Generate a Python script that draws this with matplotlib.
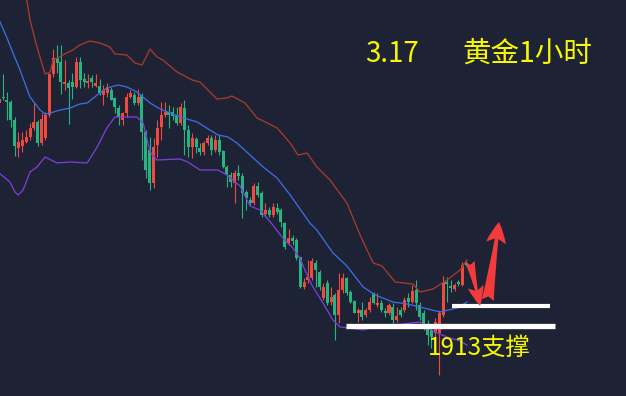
import matplotlib
matplotlib.use("Agg")
import matplotlib.pyplot as plt
import numpy as np

# gold 1h candles (price scale is an estimate)
opens = [1968.25, 1969.75, 1969, 1968.5, 1964, 1957, 1957.5, 1958.5, 1959.75, 1962,
         1963.5, 1958.25, 1959.5, 1965.25, 1975.5, 1979.5, 1978.5, 1973, 1973.25, 1973.5,
         1972.25, 1978.5, 1974.25, 1973.25, 1974.5, 1972.5, 1972.5, 1970.25, 1970.75, 1971.5,
         1969.5, 1967, 1964, 1965.75, 1969.75, 1970.25, 1968.25, 1970.25, 1961, 1956.5,
         1948.25, 1957.75, 1962.25, 1965.25, 1966, 1966, 1965.25, 1963.25, 1967, 1961.5,
         1957.25, 1959.25, 1957, 1956, 1958.25, 1959.5, 1956.5, 1959, 1956.25, 1952.25,
         1950.25, 1948.25, 1950.75, 1950, 1946, 1944, 1943.25, 1947.5, 1945.75, 1940.5,
         1941.5, 1940.25, 1942, 1941.5, 1938.25, 1933.25, 1934.5, 1934, 1929.75, 1922.25,
         1924, 1924.5, 1928.25, 1926, 1919.5, 1923.25, 1918.5, 1920.25, 1915.25, 1921.5,
         1924.5, 1921, 1918.75, 1915.75, 1916.5, 1915.25, 1916.5, 1920.75, 1917.75, 1918.25,
         1916.25, 1915.75, 1917.25, 1914, 1916.5, 1916.5, 1919.5, 1918.5, 1921.5, 1917.75,
         1915.75, 1912.75, 1911.5, 1910.75, 1910.75, 1915.25, 1923.5, 1922.5, 1921.75, 1923.5,
         1922.75, 1928.25]
closes = [1969.25, 1969.5, 1968.5, 1964, 1957.5, 1958.5, 1959, 1959.75, 1962, 1963.5,
          1958.25, 1964.25, 1965.25, 1975.5, 1979.5, 1978.25, 1973.5, 1973.5, 1972, 1972.25,
          1978.5, 1974, 1973.5, 1973.75, 1973.5, 1973.25, 1970.75, 1971.5, 1972.25, 1969,
          1967.25, 1964.75, 1965.75, 1969.75, 1970.75, 1968.25, 1969.75, 1961, 1951.5, 1948.25,
          1957.25, 1962, 1965.25, 1966, 1965.25, 1965, 1963.25, 1967.25, 1961.5, 1957.25,
          1959.5, 1957.25, 1956, 1958.25, 1959.5, 1956.5, 1959, 1956, 1952.25, 1950.25,
          1948.5, 1950.75, 1950, 1945.75, 1944.5, 1943.25, 1947.5, 1945.25, 1940.25, 1941.5,
          1940.25, 1942.25, 1941, 1938.5, 1932.25, 1934.5, 1933.75, 1929.5, 1922.25, 1923.5,
          1924.75, 1928.75, 1926.5, 1922.25, 1922.25, 1918.25, 1919.75, 1915.25, 1921.5, 1924.5,
          1920.75, 1918.5, 1915.75, 1916.5, 1914.75, 1916.5, 1918.5, 1918.25, 1918.25, 1916.5,
          1915.75, 1917.75, 1914, 1915, 1915.25, 1919, 1918.5, 1921.25, 1918.25, 1914.75,
          1912.75, 1910.25, 1909.75, 1913.5, 1915.75, 1923.5, 1923, 1922, 1922.75, 1923,
          1927.75, 1927.75]
highs = [1969.75, 1975.5, 1971, 1969, 1964.75, 1961, 1961, 1961.5, 1963.25, 1968.25,
         1964, 1965.75, 1966, 1975.75, 1981.75, 1982.75, 1982.75, 1979, 1974, 1975.75,
         1979.75, 1979.75, 1975.75, 1975.5, 1975.25, 1975.5, 1974.25, 1972.75, 1973.25, 1972.25,
         1969.75, 1967.75, 1966, 1970.75, 1971.5, 1971, 1971.75, 1970.75, 1961.5, 1959.75,
         1959.5, 1964, 1968.5, 1968.5, 1967.75, 1967.25, 1967.25, 1968.25, 1969, 1962.75,
         1960.75, 1959.75, 1958.25, 1958.75, 1960.25, 1960.25, 1960.25, 1960.25, 1956.5, 1952.75,
         1951, 1951.5, 1952.75, 1950.75, 1946.5, 1944.75, 1948.25, 1948.5, 1946.25, 1943.25,
         1942.25, 1943.25, 1943.25, 1942, 1938.5, 1936.75, 1935.25, 1934.5, 1929.75, 1924.5,
         1929, 1929.5, 1929, 1926.5, 1923.25, 1924, 1922.25, 1920.75, 1925.75, 1925.75,
         1924.75, 1921.5, 1919, 1917, 1918.5, 1917, 1919.75, 1921, 1920.75, 1919,
         1917, 1918.25, 1918.25, 1917.25, 1917.25, 1919.75, 1920.75, 1922.75, 1924, 1918.5,
         1916.5, 1914, 1912.75, 1914.5, 1916.5, 1925, 1924.75, 1924, 1923.25, 1924,
         1928.5, 1929]
lows = [1968, 1969, 1964, 1962.25, 1955, 1954.75, 1956, 1958.25, 1959, 1961.5,
        1957.5, 1957.75, 1959, 1964.75, 1974.75, 1975.75, 1970.5, 1971.5, 1963, 1969.25,
        1972, 1972, 1972.25, 1972, 1972.25, 1972.25, 1970.25, 1967.75, 1969.75, 1969,
        1965.75, 1962.75, 1962.75, 1964.75, 1969.5, 1967.75, 1967.75, 1954, 1949.5, 1946.5,
        1947, 1954.75, 1959, 1964.75, 1962, 1964, 1962.75, 1962.75, 1955.25, 1954.75,
        1954.5, 1955.75, 1955.25, 1955.25, 1957.75, 1955.25, 1956, 1955.25, 1952, 1947.25,
        1947.25, 1943.25, 1949, 1939.5, 1941.5, 1942.75, 1942.75, 1944.75, 1939.75, 1939.75,
        1939.75, 1939.75, 1940.5, 1937.25, 1931.75, 1932.75, 1932.75, 1929, 1922, 1921.75,
        1923.25, 1924, 1922.25, 1921.5, 1919, 1917.75, 1917.75, 1909, 1913.25, 1920.75,
        1920.25, 1918.25, 1915.75, 1913.5, 1914, 1914.75, 1916, 1918, 1917.25, 1916,
        1914.75, 1915.25, 1912.75, 1913.5, 1914.75, 1916, 1917.25, 1918.25, 1916.5, 1914,
        1911.5, 1907.75, 1907, 1909, 1900.25, 1914.75, 1918.5, 1921, 1921.25, 1922.5,
        1922.5, 1927.5]

# Bollinger bands, sampled at candle positions
upper_idx = [7.0, 8.0, 9.8, 11.9, 13.2, 14.0, 16.5, 19.1, 20.9, 23.5,
             26.1, 28.7, 30.0, 33.1, 35.2, 37.0, 39.1, 40.9, 42.4, 46.1,
             50.0, 52.0, 54.6, 56.4, 59.0, 60.3, 63.7, 66.8, 68.4, 72.0,
             75.4, 77.4, 79.8, 82.3, 85.7, 90.1, 93.5, 96.9, 99.2, 102.6,
             107.2, 109.0, 112.4, 116.0, 119.4, 121.2]
upper = [1995, 1989, 1982.25, 1975.5, 1976, 1979, 1980.25, 1981.5, 1982.75, 1983.75,
         1983.25, 1982.25, 1980.5, 1980.25, 1978.25, 1977.75, 1981.75, 1979.75, 1979, 1976,
         1974, 1973.5, 1971, 1969.25, 1969.5, 1970, 1968.25, 1964.5, 1963.75, 1962,
         1958.25, 1955.25, 1955.75, 1952.25, 1949, 1943.25, 1935.25, 1928.25, 1927.5, 1923.5,
         1923, 1921, 1921.75, 1924, 1926.5, 1929]
mid_idx = [0.0, 2.04, 3.59, 5.4, 8.0, 10.6, 11.9, 13.2, 15.8, 18.4,
           20.9, 22.8, 25.4, 27.9, 30.8, 33.1, 35.7, 39.1, 41.7, 46.9,
           51.3, 54.6, 56.7, 59.3, 61.6, 65.0, 68.4, 72.0, 75.4, 80.5,
           82.3, 86.5, 90.1, 94.3, 97.4, 102.0, 105.7, 109.0, 114.2, 118.6,
           121.2]
mid = [1989, 1984.5, 1980.75, 1976.5, 1969.75, 1966.5, 1965.5, 1965.75, 1966.5, 1967,
       1968, 1968.25, 1970.25, 1972, 1972.75, 1972.25, 1971, 1968.25, 1966.75, 1964.75,
       1963.5, 1961.5, 1960.25, 1959.75, 1958.25, 1955.25, 1952.25, 1949.5, 1945.25, 1938.25,
       1936.5, 1930.75, 1927.5, 1922.25, 1920.25, 1918.5, 1918, 1917.25, 1916, 1917,
       1918.5]
lower_idx = [0.0, 2.8, 4.1, 4.9, 6.2, 8.0, 9.8, 11.9, 15.0, 18.4,
             22.8, 25.4, 27.9, 30.0, 33.1, 35.7, 37.3, 39.1, 40.9, 46.9,
             48.9, 52.0, 56.7, 59.0, 62.4, 65.0, 67.6, 70.9, 73.5, 76.1,
             77.9, 79.2, 81.0, 83.1, 86.5, 88.3, 90.9, 94.3, 97.4, 102.6,
             109.0, 112.4, 116.0, 119.4, 121.2]
lower = [1950.75, 1948.5, 1946, 1945.25, 1946.5, 1951, 1952.25, 1954.75, 1953.25, 1953.5,
         1953.25, 1957.25, 1962, 1964.75, 1964.75, 1964.75, 1963.25, 1956, 1954, 1954.25,
         1953.5, 1951.5, 1951.5, 1950.25, 1947.5, 1942.5, 1941.5, 1937.75, 1934.5, 1932,
         1929.5, 1926.5, 1922.75, 1919.5, 1914, 1912.25, 1912, 1911.5, 1912.25, 1912.75,
         1913.5, 1911.25, 1909.75, 1908.75, 1907.75]

BG = "#1d2235"
UP = "#ef4a3f"
DOWN = "#27b47f"
YELLOW = "#f8f800"
ARROW = "#f23b3b"
CJK = ["Noto Sans CJK SC", "DejaVu Sans"]

fig = plt.figure(figsize=(6.26, 3.96), dpi=100)
fig.patch.set_facecolor(BG)
ax = fig.add_axes([0, 0, 1, 1])
ax.set_facecolor(BG)
ax.set_xlim(0.22, 162.4)
ax.set_ylim(1895, 1994)
for s in ax.spines.values():
    s.set_visible(False)
ax.set_xticks([])
ax.set_yticks([])

o = np.array(opens)
c = np.array(closes)
h = np.array(highs)
l = np.array(lows)
idx = np.arange(len(o))
colors = np.where(c >= o, UP, DOWN)

ax.vlines(idx, l, h, colors=colors, linewidth=0.8, zorder=2)
body = np.maximum(np.abs(c - o), 0.3)
ax.bar(idx, body, bottom=np.minimum(o, c), width=0.78, color=colors,
       linewidth=0, zorder=2)

ax.plot(upper_idx, upper, color="#a83a2b", linewidth=0.95, zorder=3)
ax.plot(mid_idx, mid, color="#3b6ee0", linewidth=0.95, zorder=3)
ax.plot(lower_idx, lower, color="#7a3fd6", linewidth=0.95, zorder=3)

# support lines
ax.hlines(1912.5, 89.9, 144.0, colors="white", linewidth=3.8, zorder=4)
ax.hlines(1917.4, 117.3, 142.7, colors="white", linewidth=3.0, zorder=4)

# drawn arrows
ax.annotate("", xy=(124.6, 1917.5), xytext=(122.0, 1928.5),
            arrowprops=dict(arrowstyle="fancy,head_length=0.75,head_width=0.6,tail_width=0.35",
                            color=ARROW, mutation_scale=19, shrinkA=0, shrinkB=0, lw=0),
            zorder=5)
ax.annotate("", xy=(129.5, 1938.5), xytext=(126.6, 1919),
            arrowprops=dict(arrowstyle="fancy,head_length=0.8,head_width=0.75,tail_width=0.45",
                            color=ARROW, mutation_scale=19, shrinkA=0, shrinkB=0, lw=0),
            zorder=5)

fig.text(365 / 626, 1 - 62 / 396, "3.17", fontsize=20, color=YELLOW,
         family=CJK, ha="left", va="baseline")
fig.text(462 / 626, 1 - 62 / 396, "黄金1小时", fontsize=20.5, color=YELLOW,
         family=CJK, ha="left", va="baseline")
fig.text(428 / 626, 1 - 355 / 396, "1913支撑", fontsize=17.5, color=YELLOW,
         family=CJK, ha="left", va="baseline", zorder=6)

fig.savefig("out.png", dpi=100, facecolor=BG)
